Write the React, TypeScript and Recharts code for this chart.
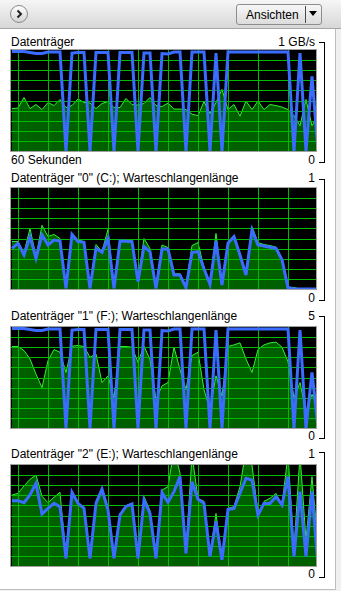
import React from "react"
import { ComposedChart, Area, Line, XAxis, YAxis, CartesianGrid } from "recharts"

// sample index (one sample every ~6px on the original graph)
const sampleIndex = Array.from({ length: 52 }, (_, i) => i)
const gridTicks = [1, 6, 11, 16, 21, 26, 31, 36, 41, 46]
const levelTicks = [10, 20, 30, 40, 50, 60, 70, 80, 90]

const titles = [
  "Datenträger",
  'Datenträger "0" (C:); Warteschlangenlänge',
  'Datenträger "1" (F:); Warteschlangenlänge',
  'Datenträger "2" (E:); Warteschlangenlänge',
]
const maxLabels = ["1 GB/s", "1", "5", "1"]
const minLabels = ["0", "0", "0", "0"]
const timeLabel = "60 Sekunden"

// values in % of the graph height
const diskIo = [
  42, 42.5, 53, 42, 46, 41, 48, 45, 51, 43, 45, 51.5, 48, 47.5, 42, 47, 49, 43, 43, 52,
  46, 45.5, 47, 53, 45, 44, 47.5, 41.5, 41.5, 41, 36.5, 35, 49, 37, 48, 61, 41, 46, 34.5, 49.5,
  41, 49.5, 41, 46, 45, 43.5, 41, 35, 25, 51, 25, 36,
]
const diskActive = [
  98.5, 98.5, 98.5, 97.5, 96.5, 96.5, 98, 98, 98, 0, 97, 97.5, 97.5, 0, 97.5, 97.5, 97.5, 0, 97.5, 97.5,
  97.5, 0, 97, 97, 0, 96.5, 96, 98, 98, 0, 98, 98, 98, 0, 97, 0, 98, 98, 98, 98,
  98, 98, 98, 98, 98, 98, 98, 0, 97, 0, 74, 0,
]
const queueC = [
  47, 47, 36, 60, 32, 63, 52, 54, 50, 1, 55, 48.5, 47, 1, 44, 37, 59, 1, 49, 48.5,
  48, 8, 50, 40, 1, 43.5, 41, 15, 15, 2, 43, 46, 21, 5, 55, 4, 46, 53, 35, 15,
  61.7, 46, 44, 43, 41.5, 30, 2, 1.5, 0, 0, 0, 0,
]
const activeC = [
  40.3, 45.3, 33.7, 51.8, 30.4, 53.5, 43.6, 48.5, 47.5, 0.6, 54.1, 46.9, 46.2, 0.6, 40.3, 36.3, 50.2, 0.6, 47.5, 47.2,
  46.9, 7.3, 42, 37, 0.6, 39.6, 39.6, 13.9, 13.9, 1.3, 36, 37, 20, 4.6, 47.5, 3.9, 45.3, 51.8, 33.7, 13.9,
  58.4, 43.6, 42.6, 41.3, 40.3, 29, 1.3, 0, 0, 0, 0, 0,
]
const queueF = [
  80.7, 80.7, 76.7, 68.3, 53.3, 40, 66.7, 77.7, 75, 55, 81, 81.7, 80.7, 70, 73.3, 45, 51.7, 30, 80.7, 80.7,
  80, 65, 81, 68, 28.3, 41.7, 45, 80, 58, 38, 71.7, 75, 38, 18.3, 51.7, 31.7, 80.7, 82.3, 84.3, 68.3,
  55, 77.7, 82.3, 84.3, 85, 80, 65.7, 30, 45, 16.7, 33.3, 20,
]
const activeF = [
  98.5, 98.5, 98.5, 97.5, 96.5, 96.5, 98, 98, 98, 0, 97, 97.5, 97.5, 0, 97.5, 97.5, 97.5, 0, 97.5, 97.5,
  97.5, 0, 97, 97, 0, 96.5, 96, 98, 98, 0, 98, 98, 98, 0, 97, 0, 98, 98, 98, 98,
  98, 98, 98, 98, 98, 98, 98, 0, 97, 0, 55, 0,
]
const queueE = [
  70.3, 72, 79.2, 85.8, 90.1, 69, 62.7, 68, 73, 8, 74, 62.7, 58, 8, 64, 77.9, 57, 8, 52, 59.7,
  62, 8, 68.7, 55, 8, 75.2, 78.5, 115, 92, 14, 110, 67, 64, 10, 52, 6, 57, 58.8, 78.5, 115,
  100, 52, 64, 67, 71.9, 60.4, 110, 16, 110, 26, 88.5, 20,
]
const activeE = [
  64.7, 64.7, 62.7, 70.3, 81.8, 51.5, 57.1, 62, 58.8, 7.6, 73, 62, 57.1, 7.6, 62, 76, 55.5, 7.6, 50.5, 59,
  61.5, 7.6, 65.3, 52, 7.6, 72.6, 63, 73.6, 88.5, 12.6, 83.5, 66, 62, 9.3, 44, 6, 56, 57, 72, 86.8,
  85, 50.5, 62, 62, 68.6, 60.4, 88.5, 9.3, 73.6, 9.3, 73.6, 0,
]

const greenSeries = [diskIo, queueC, queueF, queueE]
const blueSeries = [diskActive, activeC, activeF, activeE]

const panels = [
  { plotTop: 50, titleTop: 34.5, footTop: 153, bracketTop: 41.5, bracketBottom: 161.5 },
  { plotTop: 188, titleTop: 171.3, footTop: 291.3, bracketTop: 179, bracketBottom: 300 },
  { plotTop: 327, titleTop: 309, footTop: 429, bracketTop: 315.5, bracketBottom: 437.5 },
  { plotTop: 465, titleTop: 446.7, footTop: 567.3, bracketTop: 452, bracketBottom: 576.5 },
]

const PLOT_LEFT = 11
const PLOT_W = 305
const PLOT_H = 101
const X_DOMAIN: [number, number] = [-1 / 6, 50.667]
const Y_DOMAIN: [number, number] = [0, 100]

// grid lines placed on the axis values (uses the axis scale when recharts hands it over)
const gridX = ({ xAxis, offset }: any) =>
  gridTicks.map((t) => {
    const px =
      xAxis && typeof xAxis.scale === "function"
        ? xAxis.scale(t)
        : offset.left + ((t - X_DOMAIN[0]) / (X_DOMAIN[1] - X_DOMAIN[0])) * offset.width
    return Math.round(px) + 0.5
  })
const gridY = ({ yAxis, offset }: any) =>
  levelTicks.map((t) => {
    const px =
      yAxis && typeof yAxis.scale === "function"
        ? yAxis.scale(t)
        : offset.top + (1 - (t - Y_DOMAIN[0]) / (Y_DOMAIN[1] - Y_DOMAIN[0])) * offset.height
    return Math.round(px) + 0.5
  })

// the graph is two stacked layers so the grid can sit above the filled area
function Graph({ green, blue }: { green: number[]; blue: number[] }) {
  const data = sampleIndex.map((k, i) => ({ k, g: green[i], b: blue[i] }))
  const margin = { top: 0, right: 0, bottom: 0, left: 0 }
  return (
    <div style={{ position: "relative", width: PLOT_W, height: PLOT_H }}>
      <div style={{ position: "absolute", left: 0, top: 0 }}>
        <ComposedChart width={PLOT_W} height={PLOT_H} data={data} margin={margin}>
          <XAxis dataKey="k" type="number" domain={X_DOMAIN} allowDataOverflow hide />
          <YAxis type="number" domain={Y_DOMAIN} allowDataOverflow hide />
          <Area
            dataKey="g"
            type="linear"
            stroke="#30f030"
            strokeWidth={1}
            fill="#006000"
            fillOpacity={1}
            dot={false}
            activeDot={false}
            isAnimationActive={false}
          />
        </ComposedChart>
      </div>
      <div style={{ position: "absolute", left: 0, top: 0 }}>
        <ComposedChart width={PLOT_W} height={PLOT_H} data={data} margin={margin}>
          <XAxis dataKey="k" type="number" domain={X_DOMAIN} allowDataOverflow hide />
          <YAxis type="number" domain={Y_DOMAIN} allowDataOverflow hide />
          <CartesianGrid
            stroke="#00bb00"
            strokeWidth={1}
            verticalCoordinatesGenerator={gridX}
            horizontalCoordinatesGenerator={gridY}
          />
          <Line
            dataKey="b"
            type="linear"
            stroke="#3a6cff"
            strokeWidth={3}
            dot={false}
            activeDot={false}
            isAnimationActive={false}
          />
        </ComposedChart>
      </div>
    </div>
  )
}

const abs = (s: React.CSSProperties): React.CSSProperties => ({ position: "absolute", ...s })

export default function App() {
  return (
    <div
      style={{
        position: "absolute",
        left: 0,
        top: 0,
        width: 341,
        height: 591,
        background: "#f0f0f0",
        fontFamily: '"Liberation Sans", Arial, sans-serif',
        fontSize: 12,
        lineHeight: "14px",
        color: "#000",
        overflow: "hidden",
      }}
    >
      {/* white panel body */}
      <div
        style={abs({
          left: 0,
          top: 28,
          width: 336,
          height: 562,
          background: "#fff",
          borderRight: "1px solid #bdbdbd",
          borderBottom: "1px solid #bdbdbd",
          boxSizing: "border-box",
        })}
      />

      {/* toolbar */}
      <div
        style={abs({
          left: 0,
          top: 0,
          width: 341,
          height: 29,
          background: "linear-gradient(#f6f6f6, #d7d7d7)",
          borderBottom: "1px solid #a6a6a6",
          boxSizing: "border-box",
        })}
      />
      <div
        style={abs({
          left: 10,
          top: 5,
          width: 18,
          height: 18,
          borderRadius: "50%",
          border: "1px solid #8a8a8a",
          background: "linear-gradient(#ffffff, #d4d4d4)",
          boxSizing: "border-box",
        })}
      >
        <svg width={16} height={16} style={{ position: "absolute", left: 0, top: 0 }}>
          <polyline points="6.5,4.5 10,8 6.5,11.5" fill="none" stroke="#222" strokeWidth={2} />
        </svg>
      </div>
      <div
        style={abs({
          left: 236,
          top: 4,
          width: 86,
          height: 21,
          borderRadius: 3,
          border: "1px solid #8d8d8d",
          background: "linear-gradient(#f7f7f7, #dcdcdc)",
          boxSizing: "border-box",
        })}
      />
      <div style={abs({ left: 246, top: 7.5, whiteSpace: "nowrap" })}>Ansichten</div>
      <div style={abs({ left: 305, top: 6, width: 1, height: 17, background: "#4a4a4a" })} />
      <svg width={10} height={8} style={{ position: "absolute", left: 308, top: 10 }}>
        <polygon points="1,1 9,1 5,6" fill="#000" />
      </svg>

      {panels.map((p, i) => (
        <React.Fragment key={i}>
          <div style={abs({ left: PLOT_LEFT, top: p.titleTop, whiteSpace: "nowrap" })}>{titles[i]}</div>
          <div style={abs({ left: 200, width: 115, top: p.titleTop, textAlign: "right" })}>{maxLabels[i]}</div>
          {i === 0 && <div style={abs({ left: PLOT_LEFT, top: p.footTop, whiteSpace: "nowrap" })}>{timeLabel}</div>}
          <div style={abs({ left: 200, width: 115, top: p.footTop, textAlign: "right" })}>{minLabels[i]}</div>
          <div
            style={abs({
              left: 319,
              top: p.bracketTop,
              width: 6,
              height: p.bracketBottom - p.bracketTop + 1,
              borderTop: "1px solid #000",
              borderRight: "1px solid #000",
              borderBottom: "1px solid #000",
              boxSizing: "border-box",
            })}
          />
          <div
            style={abs({
              left: PLOT_LEFT - 1,
              top: p.plotTop - 1,
              width: PLOT_W + 2,
              height: PLOT_H + 2,
              border: "1px solid #a0a0a0",
              boxSizing: "border-box",
              background: "#000",
            })}
          />
          <div style={abs({ left: PLOT_LEFT, top: p.plotTop, width: PLOT_W, height: PLOT_H, background: "#000" })}>
            <Graph green={greenSeries[i]} blue={blueSeries[i]} />
          </div>
        </React.Fragment>
      ))}
    </div>
  )
}
